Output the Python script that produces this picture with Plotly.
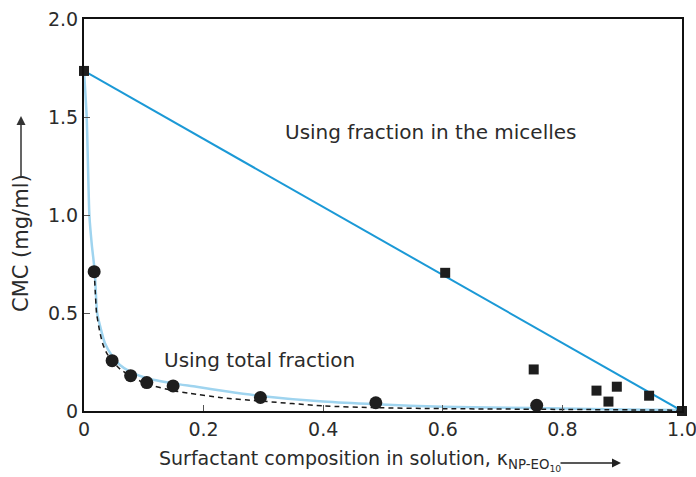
import plotly.graph_objects as go

# ---- data ----
square_x = [0.0, 0.604, 0.752, 0.857, 0.877, 0.891, 0.945, 1.0]
square_y = [1.735, 0.705, 0.212, 0.104, 0.048, 0.124, 0.078, 0.0]

circle_x = [0.017, 0.047, 0.078, 0.105, 0.149, 0.295, 0.488, 0.757]
circle_y = [0.711, 0.257, 0.180, 0.145, 0.128, 0.069, 0.042, 0.029]

micelle_x = [0.0, 1.0]
micelle_y = [1.735, 0.0]

ideal_x = [0.0, 0.0045, 0.009, 0.013, 0.018, 0.022, 0.028, 0.035, 0.047, 0.060,
           0.077, 0.105, 0.149, 0.188, 0.240, 0.295, 0.40, 0.488, 0.60, 0.75, 0.90, 1.0]
ideal_y = [1.735, 1.50, 1.00, 0.85, 0.71, 0.50, 0.42, 0.346, 0.281, 0.235,
           0.201, 0.167, 0.141, 0.124, 0.099, 0.077, 0.048, 0.034, 0.022, 0.015, 0.008, 0.005]

dash_x = [0.017, 0.019, 0.021, 0.026, 0.031, 0.038, 0.047, 0.060, 0.078, 0.105,
          0.149, 0.177, 0.230, 0.295, 0.40, 0.488, 0.60, 0.75, 1.0]
dash_y = [0.711, 0.60, 0.50, 0.41, 0.346, 0.295, 0.257, 0.215, 0.178, 0.138,
          0.104, 0.090, 0.068, 0.051, 0.026, 0.017, 0.012, 0.009, 0.004]

x_tickvals = [0, 0.2, 0.4, 0.6, 0.8, 1.0]
x_ticktext = ["0", "0.2", "0.4", "0.6", "0.8", "1.0"]
y_tickvals = [0, 0.5, 1.0, 1.5, 2.0]
y_ticktext = ["0", "0.5", "1.0", "1.5", "2.0"]

FONT = "DejaVu Sans"
TXT = "#2b2b2b"
FS = 20
FT = 19

fig = go.Figure()
fig.add_trace(go.Scatter(x=ideal_x, y=ideal_y, mode="lines",
                         line=dict(color="#9fd4ef", width=2.5, shape="spline", smoothing=0.6),
                         cliponaxis=False, hoverinfo="skip"))
fig.add_trace(go.Scatter(x=dash_x, y=dash_y, mode="lines",
                         line=dict(color="#1a1a1a", width=1.5, dash="5px,4px", shape="spline", smoothing=0.6),
                         cliponaxis=False, hoverinfo="skip"))
fig.add_trace(go.Scatter(x=micelle_x, y=micelle_y, mode="lines",
                         line=dict(color="#1b99d6", width=2),
                         cliponaxis=False, hoverinfo="skip"))
fig.add_trace(go.Scatter(x=circle_x, y=circle_y, mode="markers",
                         marker=dict(symbol="circle", size=13, color="#1e1e1e"),
                         cliponaxis=False))
fig.add_trace(go.Scatter(x=square_x, y=square_y, mode="markers",
                         marker=dict(symbol="square", size=10, color="#1e1e1e"),
                         cliponaxis=False))

fig.update_layout(
    width=696, height=477,
    margin=dict(l=84, r=14, t=19, b=66),
    paper_bgcolor="white", plot_bgcolor="white",
    showlegend=False,
    font=dict(family=FONT, size=FS, color=TXT),
)
axis_common = dict(showline=True, linecolor="#111111", linewidth=2, mirror=True,
                   showgrid=False, zeroline=False, ticks="inside", ticklen=6,
                   tickcolor="#555555", tickwidth=1, automargin=False,
                   ticklabeloverflow="allow",
                   tickfont=dict(family=FONT, size=FT, color=TXT))
fig.update_xaxes(range=[0, 1.0], tickvals=x_tickvals, ticktext=x_ticktext, **axis_common)
fig.update_yaxes(range=[0, 2.0], tickvals=y_tickvals, ticktext=y_ticktext, **axis_common)

# in-plot labels
fig.add_annotation(x=0.333, y=1.425, xref="x", yref="y", text="Using fraction in the micelles",
                   showarrow=False, xanchor="left", yanchor="middle")
fig.add_annotation(x=0.130, y=0.26, xref="x", yref="y", text="Using total fraction",
                   showarrow=False, xanchor="left", yanchor="middle")

# axis titles
fig.add_annotation(x=(157 - 84) / 598, y=(411 - 460) / 392, xref="paper", yref="paper",
                   text="Surfactant composition in solution, κ<sub>NP-EO<sub>10</sub></sub>",
                   font=dict(size=19),
                   showarrow=False, xanchor="left", yanchor="middle")
fig.add_annotation(x=(621 - 84) / 598, y=(411 - 463) / 392, xref="paper", yref="paper",
                   text="", showarrow=True, ax=-62, ay=0, arrowhead=2, arrowsize=1.2,
                   arrowwidth=1.5, arrowcolor="#222222")
fig.add_annotation(x=(21 - 84) / 598, y=(411 - 243) / 392, xref="paper", yref="paper",
                   text="CMC (mg/ml)", textangle=-90, font=dict(size=21),
                   showarrow=False, xanchor="center", yanchor="middle")
fig.add_annotation(x=(21 - 84) / 598, y=(411 - 116) / 392, xref="paper", yref="paper",
                   text="", showarrow=True, ax=0, ay=62, arrowhead=2, arrowsize=1.2,
                   arrowwidth=1.5, arrowcolor="#333333")

fig.write_html("out.html")
